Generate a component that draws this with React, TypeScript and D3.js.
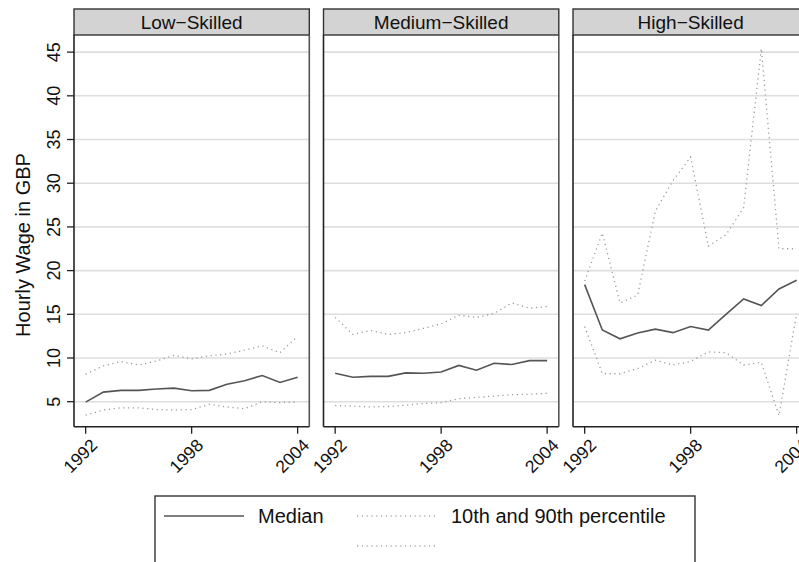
import React from 'react';
import * as d3 from 'd3';

const years = [1992, 1993, 1994, 1995, 1996, 1997, 1998, 1999, 2000, 2001, 2002, 2003, 2004];
const panels = ['Low\u2212Skilled', 'Medium\u2212Skilled', 'High\u2212Skilled'];

const lowMedian = [4.95, 6.1, 6.3, 6.3, 6.45, 6.55, 6.25, 6.3, 7.0, 7.4, 8.0, 7.2, 7.8];
const lowP10 = [3.45, 4.05, 4.3, 4.3, 4.1, 4.05, 4.1, 4.7, 4.4, 4.2, 5.0, 4.9, 4.95];
const lowP90 = [8.15, 9.1, 9.6, 9.2, 9.65, 10.3, 9.9, 10.25, 10.45, 10.9, 11.4, 10.6, 12.5];

const medMedian = [8.25, 7.8, 7.9, 7.9, 8.3, 8.25, 8.4, 9.15, 8.6, 9.4, 9.25, 9.7, 9.7];
const medP10 = [4.55, 4.5, 4.4, 4.45, 4.6, 4.8, 4.9, 5.35, 5.5, 5.65, 5.8, 5.85, 5.95];
const medP90 = [14.65, 12.7, 13.15, 12.7, 12.9, 13.4, 13.9, 14.9, 14.65, 15.1, 16.3, 15.7, 15.9];

const highMedian = [18.4, 13.2, 12.2, 12.85, 13.3, 12.9, 13.6, 13.2, 15.0, 16.75, 16.0, 17.9, 18.9];
const highP10 = [13.6, 8.2, 8.2, 8.8, 9.75, 9.2, 9.6, 10.7, 10.6, 9.2, 9.5, 3.4, 15.1];
const highP90 = [18.8, 24.3, 16.3, 17.2, 26.8, 30.3, 33.0, 22.8, 24.1, 27.2, 45.4, 22.5, 22.5];

const yTicks = [5, 10, 15, 20, 25, 30, 35, 40, 45];
const xTicks = [1992, 1998, 2004];

const series = [
  { median: lowMedian, p10: lowP10, p90: lowP90 },
  { median: medMedian, p10: medP10, p90: medP90 },
  { median: highMedian, p10: highP10, p90: highP90 },
];

const W = 799;
const H = 562;
const font = '"Liberation Sans", Arial, Helvetica, sans-serif';

const left0 = 74;
const panelW = 235.3;
const gap = 249.5;
const plotTop = 35;
const plotBottom = 426.7;
const stripTop = 9;

const App = () => {
  const x = d3.scaleLinear().domain([1991.34, 2004.66]).range([0, panelW]);
  const y = d3.scaleLinear().domain([2.139, 46.96]).range([plotBottom, plotTop]);

  const line = d3
    .line<number>()
    .x((d, i) => x(years[i]))
    .y((d) => y(d));

  return (
    <svg width={W} height={H} style={{ position: 'absolute', left: 0, top: 0, background: '#fff' }}>
      {panels.map((name, p) => {
        const left = left0 + p * gap;
        const s = series[p];
        return (
          <g key={name} transform={`translate(${left},0)`}>
            {/* strip */}
            <rect x={0} y={stripTop} width={panelW} height={plotTop - stripTop} fill="#d3d3d3" stroke="#333" strokeWidth={1.4} />
            <text x={panelW / 2} y={(stripTop + plotTop) / 2} dy="0.36em" textAnchor="middle" fontFamily={font} fontSize={19} fill="#111">
              {name}
            </text>
            {/* grid */}
            {yTicks.map((t) => (
              <line key={t} x1={0} x2={panelW} y1={y(t)} y2={y(t)} stroke="#dedede" strokeWidth={1.6} />
            ))}
            {/* lines */}
            <path d={line(s.p90) || ''} fill="none" stroke="#9a9a9a" strokeWidth={1.3} strokeDasharray="1.2 3.6" />
            <path d={line(s.p10) || ''} fill="none" stroke="#9a9a9a" strokeWidth={1.3} strokeDasharray="1.2 3.6" />
            <path d={line(s.median) || ''} fill="none" stroke="#555" strokeWidth={1.6} />
            {/* frame */}
            <line x1={panelW} x2={panelW} y1={plotTop} y2={plotBottom} stroke="#555" strokeWidth={1.6} />
            <line x1={0} x2={0} y1={plotTop} y2={plotBottom} stroke="#222" strokeWidth={1.6} />
            <line x1={0} x2={panelW} y1={plotBottom} y2={plotBottom} stroke="#222" strokeWidth={1.6} />
            {/* x axis */}
            {xTicks.map((t) => (
              <g key={t} transform={`translate(${x(t)},${plotBottom})`}>
                <line y1={0} y2={7} stroke="#222" strokeWidth={1.3} />
                <text
                  transform="translate(4,11) rotate(-45)"
                  textAnchor="end"
                  dy="0.7em"
                  fontFamily={font}
                  fontSize={17.5}
                  fill="#111"
                >
                  {t}
                </text>
              </g>
            ))}
            {/* y axis on first panel */}
            {p === 0 &&
              yTicks.map((t) => (
                <g key={t} transform={`translate(0,${y(t)})`}>
                  <line x1={-7} x2={0} stroke="#222" strokeWidth={1.3} />
                  <text transform="translate(-14,0) rotate(-90)" textAnchor="middle" fontFamily={font} fontSize={18} fill="#111">
                    {t}
                  </text>
                </g>
              ))}
          </g>
        );
      })}
      <text
        transform={`translate(30,245) rotate(-90)`}
        textAnchor="middle"
        fontFamily={font}
        fontSize={20}
        fill="#111"
      >
        Hourly Wage in GBP
      </text>
      {/* legend */}
      <g>
        <rect x={155} y={496} width={540} height={100} fill="#fff" stroke="#333" strokeWidth={1.4} />
        <line x1={164} x2={244} y1={516} y2={516} stroke="#555" strokeWidth={1.6} />
        <text x={258} y={516} dy="0.36em" fontFamily={font} fontSize={20} fill="#111">
          Median
        </text>
        <line x1={357} x2={438} y1={516} y2={516} stroke="#aaa" strokeWidth={1.3} strokeDasharray="1.2 3.6" />
        <text x={451} y={516} dy="0.36em" fontFamily={font} fontSize={20} fill="#111">
          10th and 90th percentile
        </text>
        <line x1={357} x2={438} y1={546} y2={546} stroke="#aaa" strokeWidth={1.3} strokeDasharray="1.2 3.6" />
      </g>
    </svg>
  );
};

export default App;
